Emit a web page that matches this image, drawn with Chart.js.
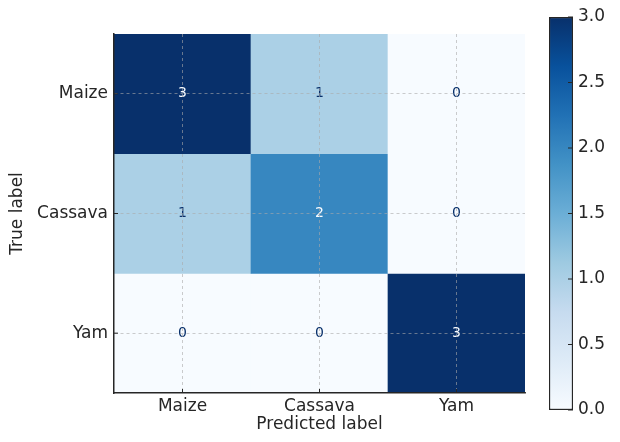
<!DOCTYPE html>
<html>
<head>
<meta charset="utf-8">
<script src="https://cdn.jsdelivr.net/npm/chart.js@4.4.1/dist/chart.umd.min.js"></script>
<style>
  body { margin: 0; background: #fff; }
  .wrap { position: relative; width: 620px; height: 442px; }
  .wrap canvas { position: absolute; left: 0; top: 0; }
</style>
</head>
<body>
<div class="wrap">
  <canvas id="matrix" width="620" height="442"></canvas>
  <canvas id="colorbar" width="620" height="442"></canvas>
</div>
<script>
// confusion matrix data
const labels = ["Maize", "Cassava", "Yam"];
const rowMaize = [3, 1, 0];
const rowCassava = [1, 2, 0];
const rowYam = [0, 0, 3];
const rows = [rowMaize, rowCassava, rowYam];
const colorbarTicks = [0, 0.5, 1, 1.5, 2, 2.5, 3];

const vmin = 0, vmax = 3;
const textColor = "#262626";
const font = "'DejaVu Sans', sans-serif";

// matplotlib "Blues"
const blues = ["#f7fbff", "#deebf7", "#c6dbef", "#9ecae1", "#6baed6",
  "#4292c6", "#2171b5", "#08519c", "#08306b"];

const hexRgb = (h) => [1, 3, 5].map((i) => parseInt(h.substr(i, 2), 16));

const bluesAt = (t) => {
  t = Math.min(1, Math.max(0, t));
  const pos = t * (blues.length - 1);
  const i = Math.min(Math.floor(pos), blues.length - 2);
  const f = pos - i;
  const a = hexRgb(blues[i]), b = hexRgb(blues[i + 1]);
  const c = a.map((v, k) => Math.round(v + (b[k] - v) * f));
  return `rgb(${c[0]},${c[1]},${c[2]})`;
};

// small inward tick marks like the matplotlib style
const inwardTicks = {
  id: "inwardTicks",
  afterDraw(chart) {
    const ctx = chart.ctx;
    ctx.save();
    ctx.strokeStyle = textColor;
    ctx.lineWidth = 1;
    Object.values(chart.scales).forEach((s) => {
      if (!s.options.display) return;
      s.ticks.forEach((t) => {
        const p = s.getPixelForValue(t.value);
        ctx.beginPath();
        if (s.axis === "x") {
          ctx.moveTo(p, s.top);
          ctx.lineTo(p, s.top - 4);
        } else if (s.position === "left") {
          ctx.moveTo(s.right, p);
          ctx.lineTo(s.right + 4, p);
        } else {
          ctx.moveTo(s.left, p);
          ctx.lineTo(s.left - 5, p);
        }
        ctx.stroke();
      });
    });
    ctx.restore();
  },
};

const cellText = {
  id: "cellText",
  afterDatasetsDraw(chart) {
    const ctx = chart.ctx;
    ctx.save();
    ctx.font = `14px ${font}`;
    ctx.textAlign = "center";
    ctx.textBaseline = "middle";
    chart.data.datasets.forEach((ds, r) => {
      chart.getDatasetMeta(r).data.forEach((el, c) => {
        const v = rows[r][c];
        const pt = el.getCenterPoint();
        ctx.fillStyle = v > (vmin + vmax) / 2 ? blues[0] : blues[8];
        ctx.fillText(String(v), pt.x, pt.y);
      });
    });
    ctx.restore();
  },
};

const datasets = rows.map((row, r) => ({
  label: labels[r],
  data: row.map(() => [r - 0.5, r + 0.5]),
  backgroundColor: row.map((v) => bluesAt((v - vmin) / (vmax - vmin))),
  borderWidth: 0,
  categoryPercentage: 1,
  barPercentage: 1,
  grouped: false,
}));

const gridStyle = {
  z: 1,
  color: "rgba(170,170,170,0.75)",
  lineWidth: 0.8,
  drawTicks: false,
  offset: false,
};

new Chart(document.getElementById("matrix"), {
  type: "bar",
  data: { labels: labels, datasets: datasets },
  options: {
    responsive: false,
    animation: false,
    layout: { padding: { top: 34, right: 95, bottom: 0, left: 0 } },
    plugins: { legend: { display: false }, tooltip: { enabled: false } },
    scales: {
      x: {
        grid: gridStyle,
        border: { z: 2, color: textColor, width: 1.5, dash: [3, 3] },
        ticks: { color: textColor, font: { family: font, size: 17 }, padding: 3 },
        title: {
          display: true,
          text: "Predicted label",
          color: textColor,
          font: { family: font, size: 17 },
          padding: { top: 0, bottom: 7 },
        },
        afterFit: (s) => { s.height = 49; },
      },
      y: {
        type: "linear",
        min: -0.5,
        max: 2.5,
        reverse: true,
        grid: gridStyle,
        border: { z: 2, color: textColor, width: 1.5, dash: [3, 3] },
        afterBuildTicks: (s) => { s.ticks = labels.map((l, i) => ({ value: i })); },
        ticks: {
          color: textColor,
          font: { family: font, size: 17 },
          padding: 6,
          callback: (v) => labels[v],
        },
        title: {
          display: true,
          text: "True label",
          color: textColor,
          font: { family: font, size: 17 },
          padding: { top: 7, bottom: 0 },
        },
        afterFit: (s) => { s.width = 114; },
      },
    },
  },
  plugins: [cellText, inwardTicks],
});

// colorbar
const barGradient = (ctx) => {
  const area = ctx.chart.chartArea;
  if (!area) return blues[4];
  const g = ctx.chart.ctx.createLinearGradient(0, area.bottom, 0, area.top);
  blues.forEach((c, i) => g.addColorStop(i / (blues.length - 1), c));
  return g;
};

new Chart(document.getElementById("colorbar"), {
  type: "bar",
  data: {
    labels: [""],
    datasets: [{
      data: [[vmin, vmax]],
      backgroundColor: barGradient,
      borderColor: textColor,
      borderWidth: 1.5,
      borderSkipped: false,
      categoryPercentage: 1,
      barPercentage: 1,
    }],
  },
  options: {
    responsive: false,
    animation: false,
    layout: { padding: { top: 17, right: 0, bottom: 32, left: 549 } },
    plugins: { legend: { display: false }, tooltip: { enabled: false } },
    scales: {
      x: { display: false },
      y: {
        position: "right",
        min: vmin,
        max: vmax,
        grid: { display: false, drawTicks: false },
        border: { display: false },
        afterBuildTicks: (s) => { s.ticks = colorbarTicks.map((v) => ({ value: v })); },
        ticks: {
          color: textColor,
          font: { family: font, size: 17 },
          padding: 5,
          callback: (v) => v.toFixed(1),
        },
        afterFit: (s) => { s.width = 47; },
      },
    },
  },
  plugins: [inwardTicks],
});
</script>
</body>
</html>
